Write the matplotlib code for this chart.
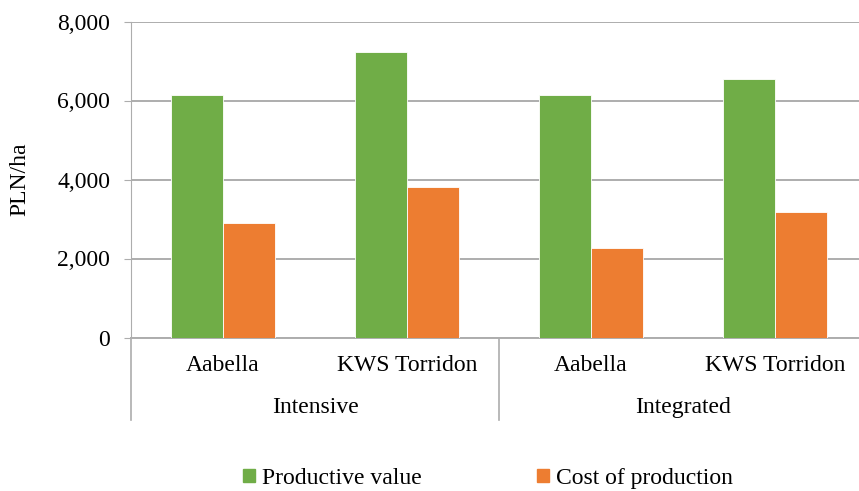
import numpy as np
import matplotlib.pyplot as plt
from matplotlib.ticker import FuncFormatter
from matplotlib.patches import Patch

## data ##
varieties = ['Aabella', 'KWS Torridon', 'Aabella', 'KWS Torridon']
systems = ['Intensive', 'Integrated']
productive_value = [6150, 7240, 6150, 6540]  # PLN/ha
cost_of_production = [2900, 3800, 2270, 3180]  # PLN/ha

green = '#70AD47'
orange = '#ED7D31'
grid_col = '#ADADAD'

plt.rcParams['font.family'] = ['Liberation Serif', 'DejaVu Serif']
fs = 17

fig = plt.figure(figsize=(8.59, 4.91), dpi=100)
# plot area runs a little past the right edge of the picture, as in the original
ax = fig.add_axes([131/859, 1 - 337.5/491, 736/859, 316/491])

x = np.arange(len(varieties))
w = 0.28
ax.bar(x - w/2, productive_value, w, color=green, edgecolor='white', linewidth=0.6, zorder=3)
ax.bar(x + w/2, cost_of_production, w, color=orange, edgecolor='white', linewidth=0.6, zorder=3)

ax.set_xlim(-0.5, len(varieties) - 0.5)
ax.set_ylim(0, 8000)
ax.set_yticks(np.arange(0, 8001, 2000))
ax.yaxis.set_major_formatter(FuncFormatter(lambda v, p: f'{int(v):,}'))
ax.yaxis.grid(True, color=grid_col, linewidth=1.4, zorder=0)
ax.set_xticks([])

for s in ['top', 'right']:
    ax.spines[s].set_visible(False)
ax.spines['left'].set_color(grid_col)
ax.spines['bottom'].set_color(grid_col)
ax.spines['bottom'].set_linewidth(1.4)
ax.tick_params(axis='y', length=5, color=grid_col, labelsize=fs, pad=10)
ax.set_ylabel('PLN/ha', fontsize=fs, labelpad=19)

# category labels, two levels
trans = ax.get_xaxis_transform()
for xi, v in zip(x, varieties):
    ax.text(xi, -0.088, v, transform=trans, ha='center', va='center', fontsize=fs)
for i, s in enumerate(systems):
    ax.text(2*i + 0.5, -0.221, s, transform=trans, ha='center', va='center', fontsize=fs)
for xs in [-0.5, 1.5]:
    ax.plot([xs, xs], [0, -0.26], transform=trans, color=grid_col, linewidth=1.2, clip_on=False)

handles = [Patch(color=green), Patch(color=orange)]
fig.legend(handles, ['Productive value', 'Cost of production'], loc='center',
           bbox_to_anchor=(0.568, 0.026), ncol=2, frameon=False, fontsize=fs,
           handlelength=0.5, handleheight=0.5, handletextpad=0.3, columnspacing=4.9)

plt.savefig('out.png', dpi=100)
